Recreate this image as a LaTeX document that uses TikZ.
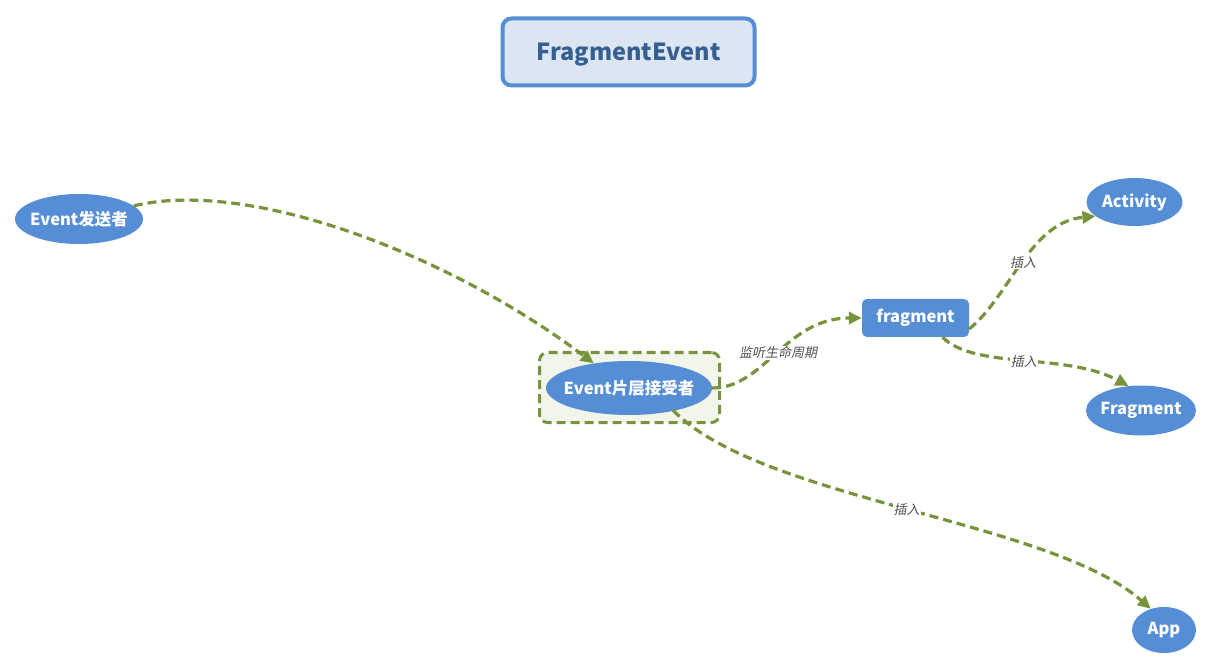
\documentclass[tikz,border=0pt]{standalone}
\usepackage{fontspec}
\setmainfont{Noto Sans CJK SC}
\newfontfamily\labelfont{Noto Sans CJK SC}[FakeSlant=0.2]
\usetikzlibrary{arrows.meta,shapes.geometric}
\definecolor{nodeblue}{HTML}{558ED5}
\definecolor{olive}{HTML}{77933C}
\definecolor{titletext}{HTML}{365F91}
\definecolor{titlefill}{HTML}{DCE6F2}
\definecolor{boxfill}{HTML}{F1F5EA}
\definecolor{labelgray}{HTML}{4F4F4F}
\tikzset{
  nodetext/.style={text=white, font=\bfseries\fontsize{16.5}{18}\selectfont, inner sep=0pt},
  ell/.style={ellipse, fill=nodeblue, draw=none, inner sep=0pt},
  rbox/.style={rectangle, rounded corners=5pt, fill=nodeblue, draw=none, inner sep=0pt},
  conn/.style={draw=olive, line width=3.2pt, dash pattern=on 9pt off 5pt, -{Triangle[length=13pt,width=12pt,fill=olive]}},
  lbl/.style={fill=white, inner sep=1pt, text=labelgray, font=\labelfont\fontsize{13}{15}\selectfont},
}
\begin{document}
\begin{tikzpicture}[x=1pt,y=-1pt]
\useasboundingbox (0,0) rectangle (1213,668);
% title
\node[rectangle, rounded corners=9pt, draw=nodeblue, line width=4pt, fill=titlefill,
  minimum width=252pt, minimum height=67pt,
  label={[text=titletext, font=\bfseries\fontsize{23.5}{26}\selectfont, yshift=-2.5pt]center:FragmentEvent}] (title) at (628.5,52) {};
% receiver group box
\node[rectangle, rounded corners=8pt, draw=olive, fill=boxfill, line width=3pt,
  dash pattern=on 9pt off 5pt, minimum width=180pt, minimum height=70pt] (grp) at (629.5,387.5) {};
% nodes
\node[ell, minimum width=128pt, minimum height=50pt, label={[nodetext]center:Event发送者}] (send) at (79,219) {};
\node[ell, minimum width=166pt, minimum height=54pt, label={[nodetext]center:Event片层接受者}] (recv) at (629,388) {};
\node[rbox, minimum width=107pt, minimum height=38pt, label={[nodetext]center:fragment}] (frag) at (915.5,318) {};
\node[ell, minimum width=96pt, minimum height=48pt, label={[nodetext]center:Activity}] (act) at (1134.5,202) {};
\node[ell, minimum width=110pt, minimum height=50pt, label={[nodetext]center:Fragment}] (Frag) at (1141,410.5) {};
\node[ell, minimum width=64pt, minimum height=46pt, label={[nodetext]center:App}] (app) at (1164,630) {};
% connectors
\draw[conn] (send) .. controls (250,178) and (450,255) .. (recv.145);
\draw[conn] (recv.east) .. controls (765,388) and (785,318) .. node[lbl, pos=0.5] {监听生命周期} (frag.west);
\draw[conn] (frag.east) ++(0,-11pt) coordinate (fa) (fa) .. controls (1010,296) and (1030,222) .. node[lbl, pos=0.5] {插入} (act.200);
\draw[conn] (frag.south) ++(27pt,0) coordinate (fb) (fb) .. controls (975,370) and (1065,352) .. node[lbl, pos=0.5] {插入} (Frag.117);
\draw[conn] (recv.south) ++(44pt,5pt) coordinate (rb) (rb) .. controls (760,500) and (1050,520) .. node[lbl, pos=0.5] {插入} (app.122);
\end{tikzpicture}
\end{document}
